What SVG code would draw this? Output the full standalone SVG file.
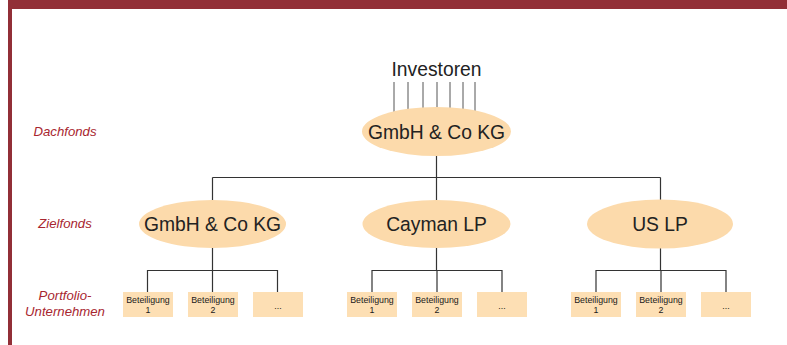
<svg xmlns="http://www.w3.org/2000/svg" width="787" height="345" viewBox="0 0 787 345">
<style>
.ell{fill:#fcdaab;stroke:none}
.box{fill:#fddfb4;stroke:none}
.big{font-family:"Liberation Sans",Arial,sans-serif;font-size:19.3px;fill:#222;text-anchor:middle}
.small{font-family:"Liberation Sans",Arial,sans-serif;font-size:8.8px;fill:#1a1a1a;text-anchor:middle}
.lbl{font-family:"Liberation Sans",Arial,sans-serif;font-size:13.2px;font-style:italic;fill:#a8262f;text-anchor:middle}
.con{stroke:#333;stroke-width:1.2;fill:none}
.inv{stroke:#555;stroke-width:1;fill:none}
</style>
<rect x="0" y="0" width="787" height="345" fill="#fff"/>
<rect x="8" y="0" width="779" height="9" fill="#922f37"/>
<rect x="8" y="0" width="4" height="345" fill="#922f37"/>
<g id="labels">
<text class="lbl" x="65" y="136">Dachfonds</text>
<text class="lbl" x="65" y="228">Zielfonds</text>
<text class="lbl" x="65" y="300">Portfolio-</text>
<text class="lbl" x="65" y="316">Unternehmen</text>
</g>
<g id="connectors">
<path class="inv" d="M394 82V112M408 82V112M423 82V112M437 82V112M450 82V112M463 82V112M475 82V112"/>
<path class="con" d="M436.5 156V177.5M212.5 177.5H660.5M212.5 177.5V201M436.5 177.5V201M660.5 177.5V201"/>
<path class="con" d="M212.5 247V270.5M147.5 292V270.5H277.5V292M212.5 270.5V292"/>
<path class="con" d="M436.5 247V270.5M372 292V270.5H502V292M437 270.5V292"/>
<path class="con" d="M660.5 247V270.5M596 292V270.5H726V292M661 270.5V292"/>
</g>
<g id="investoren"><text class="big" x="436.5" y="76">Investoren</text></g>
<g id="dachfonds">
<ellipse class="ell" cx="436.5" cy="131.5" rx="74.5" ry="24.5"/>
<text class="big" x="436.5" y="138.5">GmbH &amp; Co KG</text>
</g>
<g id="ziel-gmbh">
<ellipse class="ell" cx="212.5" cy="224" rx="73.5" ry="24"/>
<text class="big" x="212.5" y="231">GmbH &amp; Co KG</text>
</g>
<g id="ziel-cayman">
<ellipse class="ell" cx="436.5" cy="224" rx="74" ry="24"/>
<text class="big" x="436.5" y="231">Cayman LP</text>
</g>
<g id="ziel-us">
<ellipse class="ell" cx="660" cy="224" rx="73" ry="24.5"/>
<text class="big" x="660" y="231">US LP</text>
</g>
<g id="b-g1"><rect class="box" x="123" y="292" width="50" height="25"/><text class="small" x="148" y="302.7">Beteiligung</text><text class="small" x="148" y="312.5">1</text></g>
<g id="b-g2"><rect class="box" x="188" y="292" width="50" height="25"/><text class="small" x="213" y="302.7">Beteiligung</text><text class="small" x="213" y="312.5">2</text></g>
<g id="b-g3"><rect class="box" x="253" y="292" width="50" height="25"/><text class="small" x="278" y="308.5">...</text></g>
<g id="b-c1"><rect class="box" x="347" y="292" width="50" height="25"/><text class="small" x="372" y="302.7">Beteiligung</text><text class="small" x="372" y="312.5">1</text></g>
<g id="b-c2"><rect class="box" x="412" y="292" width="50" height="25"/><text class="small" x="437" y="302.7">Beteiligung</text><text class="small" x="437" y="312.5">2</text></g>
<g id="b-c3"><rect class="box" x="477" y="292" width="50" height="25"/><text class="small" x="502" y="308.5">...</text></g>
<g id="b-u1"><rect class="box" x="571" y="292" width="50" height="25"/><text class="small" x="596" y="302.7">Beteiligung</text><text class="small" x="596" y="312.5">1</text></g>
<g id="b-u2"><rect class="box" x="636" y="292" width="50" height="25"/><text class="small" x="661" y="302.7">Beteiligung</text><text class="small" x="661" y="312.5">2</text></g>
<g id="b-u3"><rect class="box" x="701" y="292" width="50" height="25"/><text class="small" x="726" y="308.5">...</text></g>
</svg>
